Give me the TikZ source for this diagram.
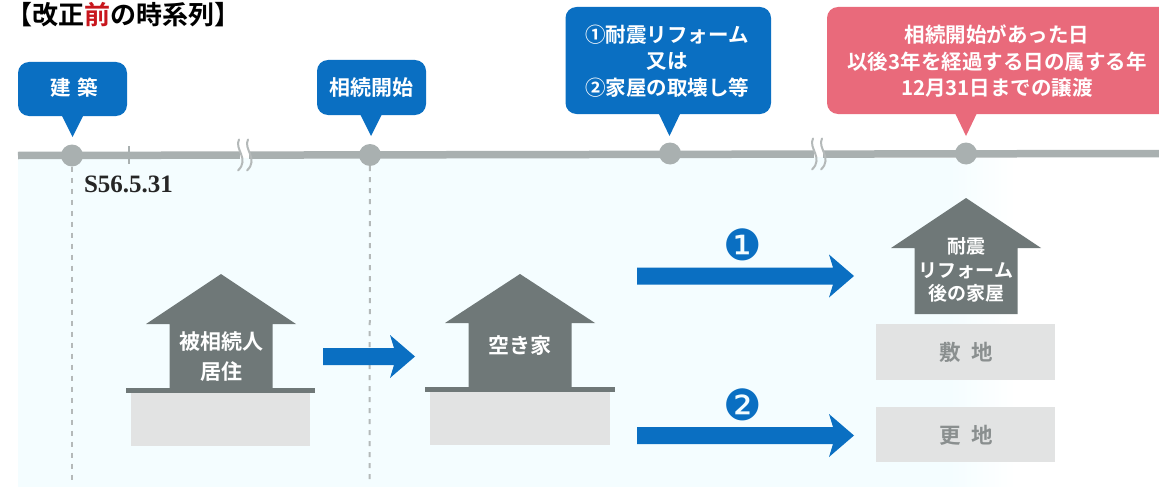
\documentclass[tikz,border=0pt]{standalone}
\usepackage{fontspec}
\setmainfont{Liberation Serif}
\newfontfamily\cjk{Noto Sans CJK JP Bold}
\newfontfamily\dingfont{DejaVu Sans}
\definecolor{cblue}{HTML}{0A6FC2}
\definecolor{cpink}{HTML}{E96A7B}
\definecolor{chouse}{HTML}{6F7878}
\definecolor{cland}{HTML}{E2E3E3}
\definecolor{cline}{HTML}{A9B0B0}
\definecolor{cguide}{HTML}{B4B9B9}
\definecolor{cbg}{HTML}{F4FDFF}
\definecolor{ctext}{HTML}{8A8F8F}
\definecolor{cred}{HTML}{C8161D}
\tikzset{
  x=1pt,y=-1pt,
  lab/.style={inner sep=0pt,align=center,text=white,font=\cjk\fontsize{20.5}{26.5}\selectfont},
  hlab/.style={lab,font=\cjk\fontsize{20}{24}\selectfont},
  landlab/.style={inner sep=0pt,text=ctext,font=\cjk\fontsize{21.5}{24}\selectfont},
  dot/.style={circle,fill=cline,inner sep=0pt,minimum size=22pt},
  guide/.style={draw=cguide,line width=2pt,dash pattern=on 5pt off 6pt},
  brk/.style={draw=cguide,line width=2pt,line cap=round},
  numlab/.style={inner sep=0pt,text=cblue,font=\dingfont\fontsize{43}{43}\selectfont},
}
% block arrow from (x1,y) to tip x2
\newcommand{\blockarrow}[3]{%
  \fill[cblue] (#1,#3-8.5) -- (#2-21,#3-8.5) -- (#2-25,#3-21.5) -- (#2,#3)
     -- (#2-25,#3+21.5) -- (#2-21,#3+8.5) -- (#1,#3+8.5) -- cycle;}
% callout: left, right, top, bottom, tip x, tip y, colour
\newcommand{\callout}[7]{%
  \fill[#7,rounded corners=11pt] (#1,#3) rectangle (#2,#4);
  \fill[#7] (#5-11,#4-1) -- (#5+11,#4-1) -- (#5,#6) -- cycle;}
% house: apex x, apex y, eaves y, bottom y
\newcommand{\house}[4]{%
  \fill[chouse] (#1,#2) -- (#1+75,#3) -- (#1+51.5,#3) -- (#1+51.5,#4)
     -- (#1-51.5,#4) -- (#1-51.5,#3) -- (#1-75,#3) -- cycle;}
% break mark on the time line, with the background it opens on
\newcommand{\breakmark}[2]{%
  \fill[white] (#1-4,#2-5) rectangle (#1+5,#2+3);
  \fill[cbg] (#1-4,#2+3) rectangle (#1+5,#2+5);
  \draw[brk] (#1-5,#2-15.5) .. controls (#1-10,#2-6) and (#1+6,#2+4) .. (#1-6,#2+15.5);
  \draw[brk] (#1+4,#2-15.5) .. controls (#1-1,#2-6) and (#1+15,#2+4) .. (#1+3,#2+15.5);}
\begin{document}
\begin{tikzpicture}
\useasboundingbox (0,0) rectangle (1159,487);
\fill[white] (0,0) rectangle (1159,487);
\fill[cbg] (18,158) rectangle (950,487);
\shade[left color=cbg,right color=white] (950,158) rectangle (1015,487);

% title
\node[inner sep=0pt,anchor=west,font=\cjk\fontsize{26}{28}\selectfont] (title) at (6.5,15)
  {【改正\textcolor{cred}{前}の時系列】};

% time line
\coordinate (tlL) at (18,155.5);
\coordinate (tlR) at (1159,153.5);
\draw[cline,line width=7.5pt] (tlL) -- (tlR);
\draw[cline,line width=2pt] (129,146) -- (129,164);
\breakmark{244}{155}
\breakmark{818}{154}
\node[dot] (d1) at (72,155.5) {};
\node[dot] (d2) at (370,155) {};
\node[dot] (d3) at (670,153.5) {};
\node[dot] (d4) at (966,153.5) {};

% guides
\coordinate (g1) at (72,484);
\coordinate (g2) at (369.5,484);
\draw[guide] (d1) -- (g1);
\draw[guide] (d2) -- (g2);

\node[inner sep=0pt,font=\bfseries\fontsize{25}{28}\selectfont,text=black!85] (date) at (128.5,184) {S56.5.31};

% callouts
\callout{18}{127}{62}{116}{72.5}{137}{cblue}
\node[lab] (c1) at (74,88) {建\hspace{7pt}築};
\callout{317}{426}{60}{115}{371}{136}{cblue}
\node[lab,font=\cjk\fontsize{21}{26}\selectfont] (c2) at (371,88) {相続開始};
\callout{565.5}{771}{7}{114}{669.5}{136}{cblue}
\node[lab] (c3) at (667,61) {①耐震リフォーム\\又は\\②家屋の取壊し等};
\begin{scope}
\clip (0,0) rectangle (1159,487);
\callout{827}{1175}{7}{114}{966}{136}{cpink}
\end{scope}
\node[lab] (c4) at (997,61.5) {相続開始があった日\\以後3年を経過する日の属する年\\12月31日までの譲渡};

% house 1
\fill[cland] (131,393) rectangle (310,446);
\house{221}{274}{324}{390}
\fill[chouse] (126,388) rectangle (315,393);
\node[hlab,font=\cjk\fontsize{21}{30}\selectfont] (h1) at (221,357) {被相続人\\居住};

% house 2
\fill[cland] (430,392) rectangle (610,445);
\house{520}{274}{323}{389}
\fill[chouse] (425,387) rectangle (615,392);
\node[hlab,font=\cjk\fontsize{21}{26}\selectfont] (h2) at (520,346) {空き家};

% house 3
\house{966}{198}{248}{314}
\node[hlab,font=\cjk\fontsize{19}{23.5}\selectfont] (h3) at (966,270) {耐震\\リフォーム\\後の家屋};

% plots
\fill[cland] (876,324) rectangle (1055,380);
\node[landlab] (l1) at (966,352.5) {敷\hspace{10pt}地};
\fill[cland] (876,407) rectangle (1055,462);
\node[landlab] (l2) at (966,435.5) {更\hspace{10pt}地};

% arrows
\blockarrow{323}{415}{356.5}
\blockarrow{637}{854}{276}
\blockarrow{637}{854}{435.5}
\node[numlab] (n1) at (743,245) {❶};
\node[numlab] (n2) at (743,405) {❷};
\end{tikzpicture}
\end{document}
